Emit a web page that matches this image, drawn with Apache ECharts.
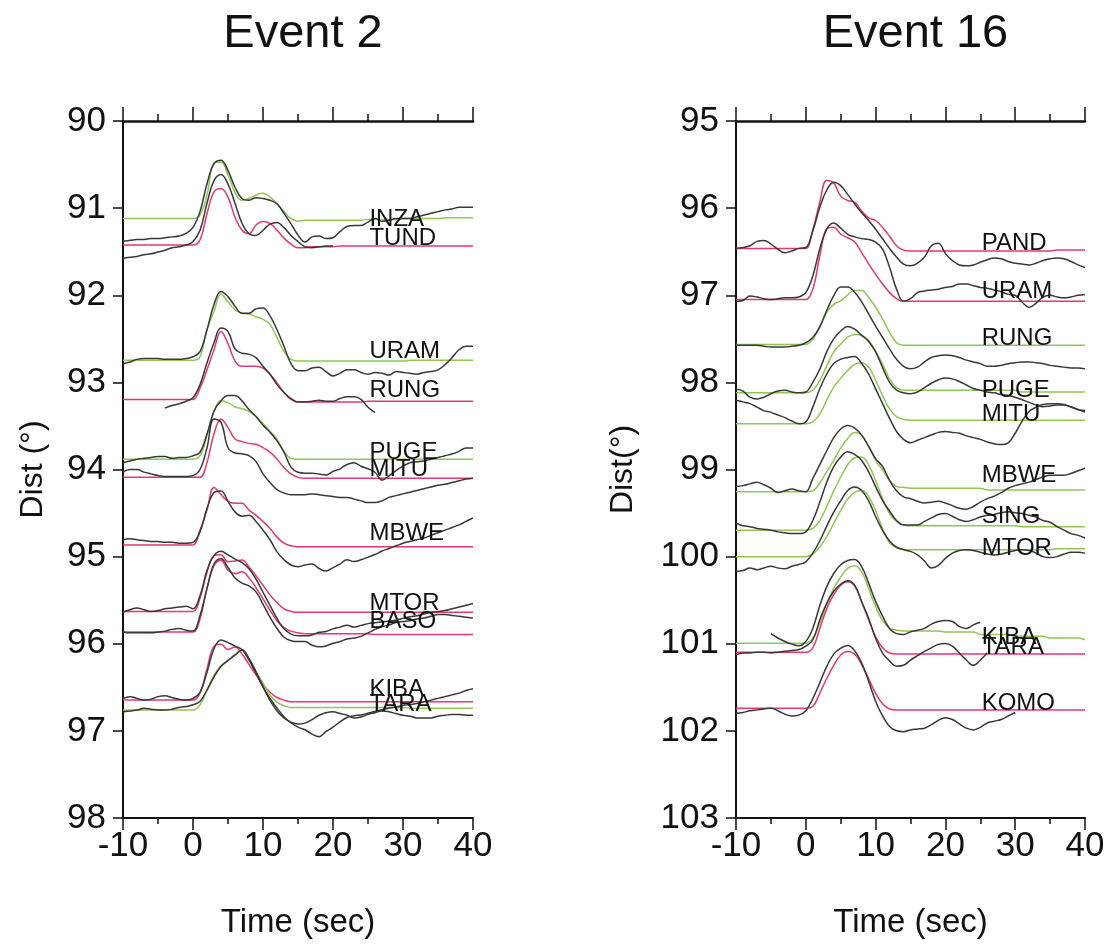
<!DOCTYPE html>
<html>
<head>
<meta charset="utf-8">
<script src="https://cdn.jsdelivr.net/npm/echarts@6/dist/echarts.min.js"></script>
<style>
  html, body { margin: 0; padding: 0; background: #ffffff; }
  #chart { width: 1112px; height: 944px; }
</style>
</head>
<body>
<div id="chart"></div>
<script>
// Sample times (s) shared by every trace
const TIME = [-10,-9,-8,-7,-6,-5,-4,-3,-2,-1,0,1,2,3,4,5,6,7,8,9,10,11,12,13,14,15,16,17,18,19,20,
  21,22,23,24,25,26,27,28,29,30,31,32,33,34,35,36,37,38,39,40];

// Trace amplitudes are in hundredths of a degree, positive = upward (toward smaller distance).
// null = no recording at that time.

// ---------------- Event 2 ----------------
const E2_STATIONS = ['INZA','TUND','URAM','RUNG','PUGE','MITU','MBWE','MTOR','BASO','KIBA','TARA'];
const E2_DIST = [91.12, 91.424, 92.746, 93.196, 93.882, 94.09, 94.866, 95.629, 95.865, 96.647, 96.761];
const E2_LABEL_DIST = [91.13, 91.35, 92.64, 93.09, 93.80, 94.00, 94.73, 95.54, 95.74, 96.52, 96.70];
const E2_MODEL = ['B','A','B','A','B','A','A','A','A','A','B'];

const E2_OBS_INZA = [-26,-25,-24,-24,-23,-23,-22,-21,-20,-17,-10, 8,40,63,67,55,36,23,21,24,23, 21,17,6,-6,-19,-27,-21,-20,-23,-22, -15,-9,-8,-8,-4,0,-3,-2,0,0, 0,2,4,6,8,10,11,13,13,13];
const E2_SYN_INZA = [0,0,0,0,0,0,0,0,0,0,0, 4,27,64,65,50,30,21,23,27,29, 25,17,8,0,-3,-2,-2,-2,-2,-2, -2,-2,-2,-2,-1,-1,-1,-1,-1,0, 0,0,0,0,0,1,1,1,1,1];
const E2_OBS_TUND = [-15,-14,-13,-11,-10,-8,-6,-3,-2,0,4, 17,48,74,81,70,48,25,13,11,17, 24,26,20,11,4,-2,-3,-2,-1,-1, null,null,null,null,null,null,null,null,null,null, null,null,null,null,null,null,null,null,null,null];
const E2_SYN_TUND = [0,0,0,0,0,0,0,0,0,0,0, 6,36,61,65,55,32,17,13,23,27, 25,17,8,1,-3,-3,-2,-2,-2,-2, -1,-1,-1,-1,-1,-1,-1,-1,-1,-1, -1,-1,-1,-1,-1,-1,-1,-1,-1,-1];
const E2_OBS_URAM = [-4,-2,1,2,2,2,1,1,1,2,4, 10,35,64,79,73,62,54,54,59,60, 51,35,16,-4,-12,-12,-9,-8,-13,-18, -15,-11,-11,-14,-16,-14,-15,-17,-13,-14, -15,-16,-14,-13,-11,-5,3,12,16,16];
const E2_SYN_URAM = [0,0,0,0,0,0,0,0,0,0,0, 4,35,56,76,67,58,54,53,50,47, 41,26,10,1,-1,-1,-1,-1,-1,-1, -1,-1,-1,-1,-1,-1,-1,-1,-1,-1, 0,0,0,0,0,0,0,0,0,0];
const E2_OBS_RUNG = [null,null,null,null,null,null,-10,-7,-5,-2,2, 17,42,65,82,78,58,53,52,48,38, 29,17,8,1,-3,-3,-2,-1,-2,-2, 1,3,3,0,-9,-15,null,null,null,null, null,null,null,null,null,null,null,null,null,null];
const E2_SYN_RUNG = [0,0,0,0,0,0,0,0,0,0,0, 13,34,57,78,64,44,38,38,38,36, 29,19,8,0,-3,-3,-3,-3,-3,-3, -3,-3,-3,-3,-2,-2,-2,-2,-2,-2, -2,-2,-2,-2,-2,-2,-2,-2,-2,-2];
const E2_OBS_PUGE = [-4,-2,0,1,2,3,3,1,2,2,4, 8,29,55,67,73,73,67,57,49,39, 31,21,8,-9,-15,-16,-16,-17,-18,-14, -11,-6,-4,-8,-11,-15,-24,-19,-13,-8, -4,-3,-2,0,2,4,6,9,13,13];
const E2_SYN_PUGE = [0,0,0,0,0,0,0,0,0,0,0, 4,27,55,67,65,60,58,55,49,41, 32,23,9,1,0,0,0,0,0,0, 0,0,0,0,0,0,0,0,0,0, 0,0,0,0,0,0,0,0,0,0];
const E2_OBS_MITU = [6,9,9,6,4,2,1,1,1,1,2, 9,34,67,63,34,28,27,25,18,4, -6,-14,-18,-20,-20,-20,-19,-20,-21,-22, -23,-23,-25,-27,-29,-29,-27,-23,-21,-19, -17,-15,-13,-11,-9,-8,-6,-4,-2,-1];
const E2_SYN_MITU = [0,0,0,0,0,0,0,0,0,0,0, 0,17,50,67,57,44,41,39,38,34, 29,21,11,4,0,-1,-1,-1,-1,-1, -1,-1,-1,-1,-1,-1,-1,-1,-1,-1, -1,-1,-1,-1,-1,-1,-1,-1,-1,-1];
const E2_OBS_MBWE = [6,7,6,5,4,4,3,3,2,2,3, 15,42,60,62,50,38,33,34,27,17, 6,-8,-17,-23,-25,-23,-22,-27,-30,-26, -22,-17,-19,-17,-14,-11,-7,-4,-1,2, 4,6,8,11,14,17,20,23,27,31];
const E2_SYN_MBWE = [0,0,0,0,0,0,0,0,0,0,0, 17,40,66,58,50,48,48,40,34,27, 19,9,2,-1,-2,-2,-2,-2,-2,-2, -2,-2,-2,-2,-2,-2,-2,-2,-2,-2, -2,-2,-2,-2,-2,-2,-2,-2,-2,-2];
const E2_OBS_MTOR = [-1,2,4,2,0,1,3,4,5,6,3, 18,47,64,69,65,60,56,49,37,22, 7,-8,-20,-26,-28,-28,-27,-24,-23,-20, -18,-16,-18,-16,-14,-13,-12,-11,-10,-8, -6,-5,-3,-1,0,1,3,5,7,9];
const E2_SYN_MTOR = [0,0,0,0,0,0,0,0,0,0,0, 15,45,64,65,57,58,59,51,41,30, 19,10,3,0,-1,-1,-1,-1,-1,-1, -1,-1,-1,-1,-1,-1,-1,-1,-1,-1, -1,-1,-1,-1,-1,-1,-1,-1,-1,-1];
const E2_OBS_BASO = [0,-1,-1,-1,-1,0,1,3,4,2,1, 19,50,78,84,74,62,56,53,46,32, 17,4,-6,-10,-11,-11,-15,-17,-16,-13, -11,-8,-7,-5,-1,3,6,8,11,12, 13,15,16,18,20,20,19,18,17,16];
const E2_SYN_BASO = [0,0,0,0,0,0,0,0,0,0,0, 15,50,76,82,71,67,69,62,51,38, 25,13,5,1,-1,-2,-2,-2,-2,-2, -2,-2,-2,-2,-2,-3,-3,-3,-3,-3, -3,-3,-3,-3,-3,-3,-3,-3,-3,-3];
const E2_OBS_KIBA = [2,4,2,0,1,4,5,3,1,0,2, 9,32,59,69,66,62,58,46,31,15, 2,-9,-19,-26,-31,-34,-39,-42,-36,-31, -25,-20,-18,-17,-15,-13,-11,-9,-8,-6, -5,-4,-2,0,2,4,6,8,11,13];
const E2_SYN_KIBA = [0,0,0,0,0,0,0,0,0,0,0, 8,36,62,64,58,61,53,41,29,18, 9,3,0,-2,-2,-2,-2,-2,-2,-2, -2,-2,-2,-2,-2,-2,-2,-2,-2,-2, -2,-2,-2,-2,-2,-2,-2,-2,-2,-2];
const E2_OBS_TARA = [-2,-1,0,2,1,0,0,1,3,4,6, 10,23,38,50,57,63,69,59,44,27, 11,-1,-9,-14,-16,-15,-11,-6,-3,-2, -4,-6,-9,-8,-5,-3,-1,-2,-4,-6, -7,-9,-9,-9,-7,-6,-5,-5,-6,-6];
const E2_SYN_TARA = [0,0,0,0,0,0,0,0,0,0,0, 6,23,40,51,57,64,69,59,44,31, 17,9,5,3,3,3,3,3,3,3, 3,3,3,3,3,3,3,3,3,3, 2,2,2,2,2,2,2,2,2,2];

// ---------------- Event 16 ----------------
const E16_STATIONS = ['PAND','URAM','RUNG','PUGE','MITU','MBWE','SING','MTOR','KIBA','TARA','KOMO'];
const E16_DIST = [96.462, 97.05, 97.565, 98.12, 98.474, 99.255, 99.696, 100.0, 100.994, 101.097, 101.739];
const E16_LABEL_DIST = [96.41, 96.96, 97.50, 98.09, 98.37, 99.07, 99.54, 99.91, 100.93, 101.04, 101.69];
const E16_MODEL = ['A','A','B','B','B','B','B','B','B','A','A'];

const E16_OBS_PAND = [0,1,3,8,9,5,-1,-5,-3,0,1, 20,47,67,76,72,62,51,41,32,22, 11,0,-10,-18,-20,-17,-10,3,6,-6, -14,-19,-20,-19,-16,-13,-11,-12,-15,-17, -18,-19,-17,-14,-12,-11,-12,-15,-19,-22];
const E16_SYN_PAND = [0,0,0,0,0,0,0,0,0,0,0, 21,53,78,75,60,55,53,43,35,32, 24,14,3,-2,-3,-3,-3,-3,-3,-3, -3,-3,-3,-3,-3,-3,-3,-3,-3,-3, -3,-3,-3,-3,-3,-2,-2,-2,-2,-2];
const E16_OBS_URAM = [-2,-1,4,3,1,0,1,2,2,3,8, 27,58,81,88,82,75,72,70,69,66, 58,37,12,-2,1,8,10,11,12,14, 15,18,18,16,14,13,11,9,6,5, -3,-9,-4,3,5,3,2,3,5,6];
const E16_SYN_URAM = [0,0,0,0,0,0,0,0,0,0,0, 12,50,81,83,75,71,66,54,41,29, 18,8,1,-2,-2,-2,-2,-2,-2,-2, -2,-2,-2,-2,-2,-2,-2,-2,-2,-2, -2,-2,-2,-2,-2,-2,-2,-2,-2,-2];
const E16_OBS_RUNG = [-1,-1,-1,-1,-2,-3,-3,-3,-2,-1,2, 8,20,39,56,66,66,60,49,35,21, 8,-5,-17,-25,-28,-26,-20,-15,-13,-12, -13,-15,-18,-20,-22,-25,-25,-24,-22,-21, -20,-20,-21,-22,-24,-25,-26,-27,-27,-28];
const E16_SYN_RUNG = [0,0,0,0,0,0,0,0,0,0,0, 6,21,37,46,50,57,62,62,54,43, 29,14,2,-1,-1,-1,-1,-1,-1,-1, -1,-1,-1,-1,-1,-1,-1,-1,-1,-1, -1,-1,-1,-1,-1,-1,-1,-1,-1,-1];
const E16_OBS_PUGE = [4,2,-5,-7,-5,-1,2,3,1,0,1, 12,27,47,62,71,76,73,66,59,47, 29,12,3,0,-1,1,6,11,15,17, 16,13,9,5,3,1,0,-2,-3,-5, -8,-11,-14,-16,-15,-14,-14,-16,-19,-22];
const E16_SYN_PUGE = [0,0,0,0,0,0,0,0,0,0,0, 3,14,31,47,56,64,67,66,60,48, 33,16,6,3,3,3,3,3,3,3, 3,3,3,3,3,3,3,3,3,3, 1,1,1,1,1,1,1,1,1,1];
const E16_OBS_MITU = [27,25,23,19,15,13,10,7,3,0,2, 19,40,57,69,74,76,77,69,57,40, 23,6,-9,-18,-22,-19,-16,-13,-10,-9, -10,-11,-14,-16,-18,-21,-23,-24,-22,-11, 3,14,19,22,23,23,22,19,16,15];
const E16_SYN_MITU = [0,0,0,0,0,0,0,0,0,0,0, 2,11,27,42,52,61,68,70,65,50, 32,17,8,5,4,4,4,4,4,4, 4,4,4,4,4,4,4,4,4,4, 4,4,4,4,4,4,4,4,4,4];
const E16_OBS_MBWE = [6,7,9,11,8,4,-1,1,3,1,0, 15,31,47,62,72,76,73,65,52,38, 29,13,1,-6,-8,-11,-13,-12,-11,-13, -16,-19,-20,-17,-12,-8,-5,-1,4,7, 9,11,14,17,19,19,19,21,24,27];
const E16_SYN_MBWE = [0,0,0,0,0,0,0,0,0,0,0, 1,10,23,36,50,61,68,65,52,36, 25,13,6,5,4,4,4,4,4,4, 4,4,4,4,4,2,2,2,2,2, 2,2,2,2,2,2,2,2,2,2];
const E16_OBS_SING = [8,5,4,2,1,0,-2,-3,-4,-4,-2, 11,32,55,73,84,90,87,80,67,50, 34,22,11,6,6,6,10,14,18,19, 16,12,10,12,15,17,18,20,21,20, 19,17,15,11,9,4,0,-4,-6,-9];
const E16_SYN_SING = [0,0,0,0,0,0,0,0,0,0,0, 2,11,27,45,61,75,83,84,75,57, 36,19,10,6,5,5,5,5,5,5, 5,5,5,5,5,5,5,5,5,5, 4,4,4,4,4,4,4,4,4,4];
const E16_OBS_MTOR = [-17,-16,-13,-15,-13,-11,-13,-14,-11,-9,-6, 4,18,35,51,64,76,80,76,64,46, 30,18,11,8,6,2,-5,-13,-10,-2, 4,7,8,7,5,3,2,3,5,7, 8,7,4,0,-1,0,3,5,5,4];
const E16_SYN_MTOR = [0,0,0,0,0,0,0,0,0,0,0, 3,11,23,38,53,66,74,76,69,53, 32,16,10,8,8,8,8,8,8,8, 8,8,8,8,8,8,8,8,8,8, 8,8,8,8,8,9,9,9,9,9];
const E16_OBS_KIBA = [null,null,null,null,null,11,6,2,-1,-3,2, 17,43,65,80,90,95,96,88,69,48, 31,17,11,10,13,15,17,22,25,26, 25,19,17,21,24,null,null,null,null,null, null,null,null,null,null,null,null,null,null,null];
const E16_SYN_KIBA = [0,0,0,0,0,0,0,0,0,0,0, 6,23,45,63,76,86,89,82,63,42, 26,17,15,14,14,14,14,14,14,13, 13,13,13,13,10,10,10,10,10,8, 8,8,8,8,6,6,6,6,6,4];
const E16_OBS_TARA = [-3,-1,-1,0,0,-1,0,1,2,3,7, 14,37,56,70,78,82,77,58,39,16, -1,-10,-16,-15,-9,-4,1,5,9,10, 7,-1,-9,-15,-9,-1,null,null,null,null, null,null,null,null,null,null,null,null,null,null];
const E16_SYN_TARA = [0,0,0,0,0,0,0,0,0,0,0, 5,27,50,66,77,81,76,58,37,18, 5,-1,-2,-2,-2,-2,-2,-2,-2,-2, -2,-2,-2,-2,-2,-2,-2,-2,-2,-2, -2,-2,-2,-2,-2,-2,-2,-2,-2,-2];
const E16_OBS_KOMO = [-6,-5,-3,-2,-1,0,-3,-7,-9,-8,-3, 11,29,48,62,69,72,66,52,31,8, -9,-21,-26,-27,-25,-24,-23,-19,-14,-11, -13,-18,-23,-25,-22,-17,-15,-13,-9,-5, null,null,null,null,null,null,null,null,null,null];
const E16_SYN_KOMO = [0,0,0,0,0,0,0,0,0,0,0, 2,17,34,49,61,65,62,50,34,17, 5,-1,-2,-2,-2,-2,-2,-2,-2,-2, -2,-2,-2,-2,-2,-2,-2,-2,-2,-2, -2,-2,-2,-2,-2,-2,-2,-2,-2,-2];

// ---------------- drawing ----------------
const FONT = '"Liberation Sans", Arial, Helvetica, sans-serif';
const INK = '#111111';
const OBS_COLOR = '#383838';
const MODEL_COLOR = { A: '#e6386b', B: '#8dc853' };
const LABEL_TIME = 25.2;

const panels = [
  {
    title: 'Event 2', yMin: 90, yMax: 98, yName: 'Dist (°)', yNameGap: 74,
    grid: { left: 123, top: 121, width: 350, height: 699 },
    stations: E2_STATIONS, dist: E2_DIST, labelDist: E2_LABEL_DIST, model: E2_MODEL,
    obs: [E2_OBS_INZA, E2_OBS_TUND, E2_OBS_URAM, E2_OBS_RUNG, E2_OBS_PUGE, E2_OBS_MITU, E2_OBS_MBWE, E2_OBS_MTOR, E2_OBS_BASO, E2_OBS_KIBA, E2_OBS_TARA],
    syn: [E2_SYN_INZA, E2_SYN_TUND, E2_SYN_URAM, E2_SYN_RUNG, E2_SYN_PUGE, E2_SYN_MITU, E2_SYN_MBWE, E2_SYN_MTOR, E2_SYN_BASO, E2_SYN_KIBA, E2_SYN_TARA]
  },
  {
    title: 'Event 16', yMin: 95, yMax: 103, yName: 'Dist(°)', yNameGap: 97,
    grid: { left: 736, top: 121, width: 349, height: 699 },
    stations: E16_STATIONS, dist: E16_DIST, labelDist: E16_LABEL_DIST, model: E16_MODEL,
    obs: [E16_OBS_PAND, E16_OBS_URAM, E16_OBS_RUNG, E16_OBS_PUGE, E16_OBS_MITU, E16_OBS_MBWE, E16_OBS_SING, E16_OBS_MTOR, E16_OBS_KIBA, E16_OBS_TARA, E16_OBS_KOMO],
    syn: [E16_SYN_PAND, E16_SYN_URAM, E16_SYN_RUNG, E16_SYN_PUGE, E16_SYN_MITU, E16_SYN_MBWE, E16_SYN_SING, E16_SYN_MTOR, E16_SYN_KIBA, E16_SYN_TARA, E16_SYN_KOMO]
  }
];

// Trace samples -> [time, distance] points, offset from the station distance
function tracePoints(dist, amp) {
  const pts = [];
  for (let i = 0; i < TIME.length; i++) {
    if (amp[i] === null) continue;
    pts.push([TIME[i], dist - amp[i] / 100]);
  }
  return pts;
}

const grids = [], xAxes = [], yAxes = [], titles = [], series = [];

panels.forEach((p, k) => {
  grids.push(Object.assign({ containLabel: false }, p.grid));
  titles.push({
    text: p.title,
    left: p.grid.left + p.grid.width / 2,
    top: 6,
    textAlign: 'center',
    textStyle: { fontSize: 47, fontWeight: 'normal', color: INK, fontFamily: FONT }
  });

  // bottom time axis
  xAxes.push({
    type: 'value', gridIndex: k, position: 'bottom', min: -10, max: 40, interval: 10,
    axisLine: { show: true, onZero: false, lineStyle: { color: INK, width: 2 } },
    axisTick: { show: true, inside: false, length: 12, lineStyle: { color: INK, width: 1.5 } },
    minorTick: { show: true, splitNumber: 2, length: 6, lineStyle: { color: INK, width: 1.5 } },
    splitLine: { show: false },
    minorSplitLine: { show: false },
    axisLabel: { fontSize: 35, color: INK, margin: 11, fontFamily: FONT },
    name: 'Time (sec)', nameLocation: 'middle', nameGap: 88,
    nameTextStyle: { fontSize: 33, color: INK, fontFamily: FONT }
  });
  // top frame axis
  xAxes.push({
    type: 'value', gridIndex: k, position: 'top', min: -10, max: 40, interval: 10,
    axisLine: { show: true, onZero: false, lineStyle: { color: INK, width: 2.5 } },
    axisTick: { show: true, inside: false, length: 14, lineStyle: { color: INK, width: 1.5 } },
    minorTick: { show: true, splitNumber: 2, length: 7, lineStyle: { color: INK, width: 1.5 } },
    splitLine: { show: false },
    axisLabel: { show: false }
  });
  yAxes.push({
    type: 'value', gridIndex: k, position: 'left', min: p.yMin, max: p.yMax, interval: 1, inverse: true,
    axisLine: { show: true, onZero: false, lineStyle: { color: INK, width: 2 } },
    axisTick: { show: true, inside: false, length: 10, lineStyle: { color: INK, width: 1.5 } },
    splitLine: { show: false },
    axisLabel: { fontSize: 35, color: INK, margin: 17, fontFamily: FONT },
    name: p.yName, nameLocation: 'middle', nameGap: p.yNameGap, nameRotate: 90,
    nameTextStyle: { fontSize: 32, color: INK, fontFamily: FONT }
  });

  const xIdx = k * 2;
  p.stations.forEach((st, i) => {
    series.push({
      name: st + ' synthetic', type: 'line', xAxisIndex: xIdx, yAxisIndex: k,
      data: tracePoints(p.dist[i], p.syn[i]),
      showSymbol: false, symbol: 'none', smooth: 0.4, silent: true, z: 2,
      lineStyle: { color: MODEL_COLOR[p.model[i]], width: 1.5 }
    });
  });
  p.stations.forEach((st, i) => {
    series.push({
      name: st + ' observed', type: 'line', xAxisIndex: xIdx, yAxisIndex: k,
      data: tracePoints(p.dist[i], p.obs[i]),
      showSymbol: false, symbol: 'none', smooth: 0.4, silent: true, z: 3,
      lineStyle: { color: OBS_COLOR, width: 1.5 }
    });
  });
  // station names
  series.push({
    type: 'scatter', xAxisIndex: xIdx, yAxisIndex: k, silent: true, z: 5,
    symbolSize: 0,
    itemStyle: { opacity: 1 },
    data: p.stations.map((st, i) => ({ name: st, value: [LABEL_TIME, p.labelDist[i]] })),
    label: {
      show: true, position: 'right', distance: 0, formatter: '{b}', opacity: 1,
      fontSize: 24, color: '#111111', fontFamily: FONT
    }
  });
});

const chart = echarts.init(document.getElementById('chart'), null, { renderer: 'canvas' });
chart.setOption({
  animation: false,
  backgroundColor: '#ffffff',
  title: titles,
  grid: grids,
  xAxis: xAxes,
  yAxis: yAxes,
  series: series
});
</script>
</body>
</html>
